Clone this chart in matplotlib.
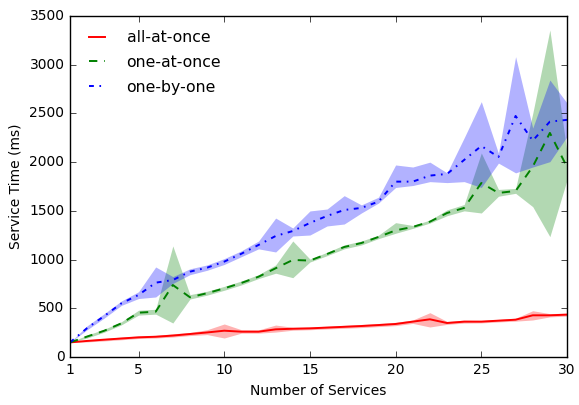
import numpy as np
import matplotlib
matplotlib.use('Agg')
from matplotlib import pyplot as plt

plt.style.use('classic')
plt.rcParams['lines.scale_dashes'] = False

services = list(range(1, 31))

red_mean = [150, 165, 178, 190, 202, 208, 220, 236, 252, 270, 260, 260, 284, 290, 294,
            302, 310, 318, 328, 339, 363, 387, 349, 363, 363, 373, 383, 428, 428, 435]
red_lo = [150, 155, 165, 177, 190, 195, 205, 220, 230, 195, 245, 245, 256, 275, 280,
          288, 295, 302, 312, 322, 345, 308, 335, 348, 350, 360, 368, 380, 412, 420]
red_hi = [150, 175, 190, 205, 215, 222, 238, 252, 280, 339, 280, 278, 328, 305, 308,
          316, 325, 334, 344, 356, 380, 455, 365, 378, 376, 386, 398, 475, 445, 450]

green_mean = [150, 210, 270, 346, 455, 465, 739, 613, 655, 705, 760, 824, 911, 996, 990,
              1057, 1129, 1170, 1232, 1300, 1335, 1389, 1478, 1530, 1786, 1684, 1704, 1954, 2300, 1950]
green_lo = [150, 195, 255, 330, 430, 440, 349, 595, 635, 685, 740, 805, 860, 814, 975,
            1040, 1110, 1150, 1215, 1270, 1320, 1375, 1450, 1500, 1478, 1650, 1680, 1543, 1235, 1817]
green_hi = [150, 225, 285, 362, 480, 490, 1140, 640, 675, 725, 780, 845, 945, 1191, 1005,
            1075, 1150, 1190, 1250, 1379, 1350, 1405, 1510, 1565, 2094, 1720, 1730, 2500, 3357, 2100]

blue_mean = [150, 297, 421, 551, 637, 763, 790, 876, 917, 979, 1060, 1150, 1242, 1293, 1376,
             1448, 1509, 1530, 1595, 1800, 1800, 1862, 1879, 2023, 2166, 2053, 2474, 2221, 2416, 2434]
blue_lo = [150, 280, 400, 530, 600, 616, 755, 845, 890, 950, 1030, 1110, 1078, 1242, 1252,
           1345, 1365, 1478, 1580, 1740, 1760, 1800, 1790, 1800, 1740, 1990, 1890, 1950, 2005, 2262]
blue_hi = [150, 320, 445, 575, 670, 924, 825, 905, 945, 1010, 1090, 1190, 1426, 1324, 1499,
           1519, 1656, 1561, 1640, 1971, 1950, 2000, 1890, 2250, 2621, 2090, 3083, 2350, 2843, 2607]

fig = plt.figure(figsize=(5.79, 4.05), dpi=100, facecolor='white')
ax = fig.add_axes([0.1209, 0.1185, 0.8584, 0.842])

ax.plot(services, red_mean, 'r-', lw=1.4, label='all-at-once')
ax.fill_between(services, red_lo, red_hi, color='r', alpha=0.3, linewidth=0)
ax.plot(services, green_mean, 'g--', lw=1.4, dashes=(6, 5), label='one-at-once')
ax.fill_between(services, green_lo, green_hi, color='g', alpha=0.3, linewidth=0)
ax.plot(services, blue_mean, 'b-.', lw=1.4, dashes=(3.5, 4, 1.2, 4), label='one-by-one')
ax.fill_between(services, blue_lo, blue_hi, color='b', alpha=0.3, linewidth=0)

ax.set_xlim(1, 30)
ax.set_ylim(0, 3500)
ax.set_xticks([1, 5, 10, 15, 20, 25, 30])
ax.tick_params(labelsize=10)
ax.set_xlabel('Number of Services', fontsize=10)
ax.set_ylabel('Service Time (ms)', fontsize=10)
ax.legend(loc='upper left', frameon=False, fontsize=11.3,
          labelspacing=0.62, handletextpad=1.1, handlelength=1.6)

fig.savefig('out.png', dpi=100, facecolor='white')
